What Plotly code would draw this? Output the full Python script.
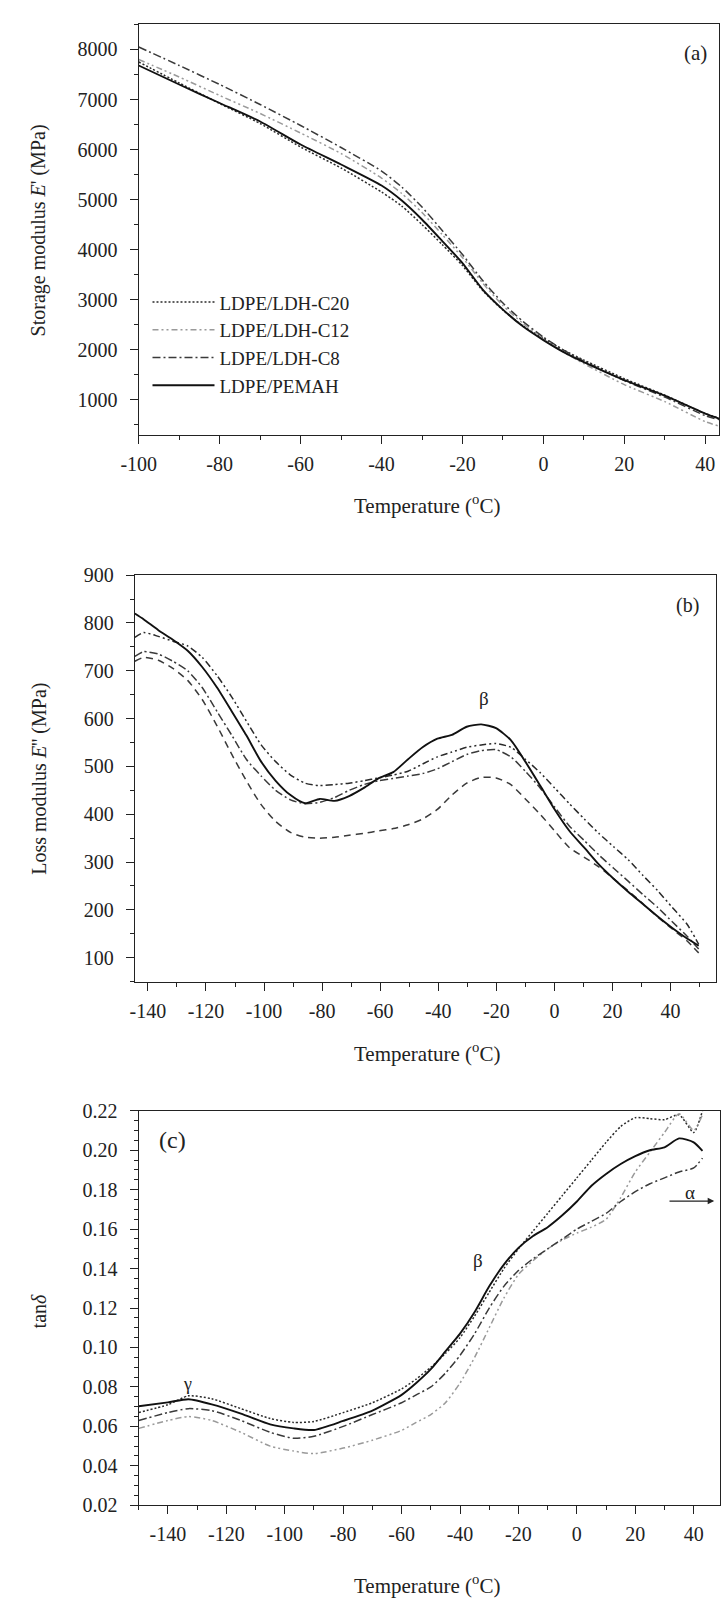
import plotly.graph_objects as go

# ---------------- data ----------------
# Panel (a): storage modulus E' (MPa)
temp_a = [-100, -90, -80, -70, -60, -50, -40, -35, -30, -25, -20, -15, -10, -5, 0, 5, 10, 20, 30, 40, 43.4]
a_c20 = [7750, 7330, 6920, 6520, 6050, 5630, 5150, 4870, 4500, 4100, 3680, 3180, 2790, 2470, 2230, 1990, 1790, 1420, 1090, 720, 630]
a_c12 = [7800, 7450, 7080, 6720, 6330, 5920, 5430, 5120, 4740, 4300, 3840, 3330, 2880, 2520, 2210, 1950, 1720, 1300, 960, 560, 470]
a_c8 = [8050, 7680, 7300, 6900, 6480, 6040, 5570, 5250, 4850, 4380, 3900, 3380, 2930, 2560, 2250, 1990, 1770, 1380, 1050, 680, 600]
a_pemah = [7680, 7300, 6930, 6560, 6100, 5700, 5280, 4980, 4600, 4170, 3730, 3200, 2800, 2460, 2190, 1950, 1750, 1390, 1080, 720, 620]

# Panel (b): loss modulus E'' (MPa)
temp_b = [-144.5, -141.5, -136.4, -131.4, -126.3, -121.3, -116.2, -111.1, -106.1, -101.0, -96.0, -90.9, -85.9,
          -80.8, -75.7, -70.7, -65.6, -60.6, -55.5, -50.4, -45.4, -40.3, -35.3, -30.2, -25.2, -20.1, -15.0, -10.0,
          -4.9, 0.1, 5.2, 10.3, 15.3, 20.4, 25.4, 30.5, 35.6, 40.6, 45.7, 49.7]
b_solid = [820, 808, 785, 765, 742, 708, 665, 615, 565, 510, 470, 440, 423, 432, 428, 438, 455,
           475, 488, 515, 540, 558, 566, 583, 588, 580, 555, 510, 460, 410, 365, 330, 295, 265, 238, 212, 186, 162, 140, 125]
b_dashdotdot = [770, 780, 772, 762, 752, 728, 690, 645, 595, 545, 510, 482, 465, 460, 462, 465, 470,
                476, 482, 490, 505, 520, 530, 540, 545, 548, 540, 515, 487, 455, 422, 390, 360, 332, 305, 272, 240, 205, 170, 128]
b_dashdot = [730, 740, 735, 720, 700, 665, 615, 565, 515, 480, 450, 430, 422, 425, 435, 450, 462,
             470, 475, 480, 485, 495, 510, 525, 533, 535, 520, 490, 455, 415, 375, 345, 315, 287, 260, 232, 205, 175, 145, 118]
b_dashed = [720, 728, 722, 705, 680, 640, 585, 525, 470, 420, 385, 362, 352, 350, 352, 356, 360,
            365, 370, 378, 390, 410, 440, 465, 477, 476, 462, 432, 400, 365, 330, 310, 290, 265, 240, 213, 185, 160, 135, 110]

# Panel (c): tan delta
temp_c = [-150, -140, -133, -125, -115, -105, -97, -90, -80, -70, -60, -55, -50, -45, -40, -35, -30, -25,
          -20, -15, -10, -5, 0, 5, 10, 15, 20, 25, 30, 35, 40, 43]
c_pemah = [0.0702, 0.0722, 0.0738, 0.0712, 0.0665, 0.0610, 0.0590, 0.0582, 0.0628, 0.0680, 0.0760, 0.0820, 0.0890,
           0.0980, 0.1070, 0.1180, 0.1310, 0.1420, 0.1505, 0.1565, 0.1610, 0.1670, 0.1740, 0.1820, 0.1880, 0.1930,
           0.1970, 0.2000, 0.2015, 0.2060, 0.2040, 0.1997]
c_c20 = [0.0670, 0.0710, 0.0755, 0.0740, 0.0690, 0.0640, 0.0620, 0.0625, 0.0670, 0.0720, 0.0790, 0.0840, 0.0900,
         0.0970, 0.1050, 0.1160, 0.1280, 0.1400, 0.1500, 0.1590, 0.1680, 0.1770, 0.1860, 0.1950, 0.2040, 0.2120,
         0.2165, 0.2160, 0.2155, 0.2180, 0.2090, 0.2200]
c_c12 = [0.0590, 0.0630, 0.0650, 0.0630, 0.0570, 0.0500, 0.0475, 0.0462, 0.0490, 0.0530, 0.0580, 0.0620, 0.0660,
         0.0720, 0.0820, 0.0950, 0.1100, 0.1250, 0.1370, 0.1440, 0.1500, 0.1545, 0.1580, 0.1610, 0.1650, 0.1760,
         0.1890, 0.1990, 0.2090, 0.2185, 0.2100, 0.2180]
c_c8 = [0.0630, 0.0670, 0.0690, 0.0680, 0.0630, 0.0570, 0.0540, 0.0550, 0.0600, 0.0660, 0.0720, 0.0760, 0.0800,
        0.0870, 0.0960, 0.1070, 0.1200, 0.1310, 0.1390, 0.1450, 0.1500, 0.1550, 0.1600, 0.1640, 0.1680, 0.1740,
        0.1790, 0.1830, 0.1860, 0.1890, 0.1910, 0.1960]

names = ["LDPE/LDH-C20", "LDPE/LDH-C12", "LDPE/LDH-C8", "LDPE/PEMAH"]

# tick labels (hyphen minus as in the original)
xt_a = [-100, -80, -60, -40, -20, 0, 20, 40]
xt_a_text = ["-100", "-80", "-60", "-40", "-20", "0", "20", "40"]
xt_bc = [-140, -120, -100, -80, -60, -40, -20, 0, 20, 40]
xt_bc_text = ["-140", "-120", "-100", "-80", "-60", "-40", "-20", "0", "20", "40"]

# ---------------- styles ----------------
FONT = "Liberation Serif, Times New Roman, serif"
W, H = 721, 1611
TICK = 20
st_c20 = dict(color="#2a2a2a", width=1.5, dash="2px,2px")
st_c12 = dict(color="#9a9a9a", width=1.5, dash="6px,3px,2px,3px,2px,3px")
st_c8 = dict(color="#3a3a3a", width=1.5, dash="8px,3px,2px,3px")
st_solid = dict(color="#111111", width=1.9)

fig = go.Figure()

# panel a
for nm, ys, st in zip(names, [a_c20, a_c12, a_c8, a_pemah], [st_c20, st_c12, st_c8, st_solid]):
    fig.add_trace(go.Scatter(x=temp_a, y=ys, mode="lines", name=nm,
                             line=dict(shape="spline", smoothing=0.6, **st), xaxis="x", yaxis="y"))

# panel b
for ys, st in zip([b_dashed, b_dashdot, b_dashdotdot, b_solid],
                  [dict(color="#3a3a3a", width=1.5, dash="7px,5px"),
                   dict(color="#3a3a3a", width=1.5, dash="8px,3px,2px,3px"),
                   dict(color="#2a2a2a", width=1.5, dash="7px,3px,2px,3px,2px,3px"),
                   st_solid]):
    fig.add_trace(go.Scatter(x=temp_b, y=ys, mode="lines", showlegend=False,
                             line=dict(shape="spline", smoothing=0.6, **st), xaxis="x2", yaxis="y2"))

# panel c
for nm, ys, st in zip(names, [c_c20, c_c12, c_c8, c_pemah], [st_c20, st_c12, st_c8, st_solid]):
    fig.add_trace(go.Scatter(x=temp_c, y=ys, mode="lines", showlegend=False, name=nm,
                             line=dict(shape="spline", smoothing=0.6, **st), xaxis="x3", yaxis="y3"))


def xdom(a, b):
    return [a / W, b / W]


def ydom(top, bottom):
    return [1 - bottom / H, 1 - top / H]


def ax(**kw):
    d = dict(showline=True, linecolor="#222", linewidth=1.3, mirror=True, ticks="outside",
             ticklen=8, tickwidth=1.2, tickcolor="#222", showgrid=False, zeroline=False,
             tickfont=dict(family=FONT, size=TICK, color="#222"))
    d.update(kw)
    return d


mx = dict(dtick=10, ticks="outside", ticklen=4, tickcolor="#222")

fig.update_layout(
    width=W, height=H, autosize=False,
    margin=dict(l=0, r=0, t=0, b=0),
    paper_bgcolor="white", plot_bgcolor="white",
    font=dict(family=FONT, color="#222"),
    xaxis=ax(domain=xdom(124, 720), range=[-100, 43.4], tickvals=xt_a, ticktext=xt_a_text, anchor="y",
             minor=mx, ticklabelstandoff=3),
    yaxis=ax(domain=ydom(13, 430), range=[290, 8513], dtick=1000, anchor="x", ticklabelstandoff=8,
             minor=dict(dtick=500, ticks="outside", ticklen=4, tickcolor="#222")),
    xaxis2=ax(domain=xdom(120, 717), range=[-144.5, 55.7], tickvals=xt_bc, ticktext=xt_bc_text, anchor="y2",
              minor=mx, ticklabelstandoff=3),
    yaxis2=ax(domain=ydom(572, 984), range=[50, 900], dtick=100, anchor="x2", ticklabelstandoff=8,
              minor=dict(dtick=50, ticks="outside", ticklen=4, tickcolor="#222")),
    xaxis3=ax(domain=xdom(124, 721), range=[-150, 49], tickvals=xt_bc, ticktext=xt_bc_text, anchor="y3",
              minor=mx, ticklabelstandoff=3),
    yaxis3=ax(domain=ydom(1115, 1515), range=[0.02, 0.22], dtick=0.02, tickformat=".2f", anchor="x3",
              ticklabelstandoff=8, minor=dict(dtick=0.005, ticks="outside", ticklen=4, tickcolor="#222")),
    legend=dict(x=133 / W, y=1 - 276 / H, xanchor="left", yanchor="top", bgcolor="rgba(0,0,0,0)",
                font=dict(family=FONT, size=19, color="#222"), itemwidth=62),
)

ann = []
temp_title = "Temperature (<sup>o</sup>C)"
for yc in [500, 1056, 1595]:
    ann.append(dict(x=420 / W, y=1 - yc / H, xref="paper", yref="paper", text=temp_title, showarrow=False,
                    font=dict(family=FONT, size=21), xanchor="center", yanchor="middle"))
for txt, yc in [("Storage modulus <i>E</i>' (MPa)", 222), ("Loss modulus <i>E</i>'' (MPa)", 778),
                ("tan<i>δ</i>", 1318)]:
    ann.append(dict(x=22 / W, y=1 - yc / H, xref="paper", yref="paper", text=txt, showarrow=False,
                    textangle=-90, font=dict(family=FONT, size=20), xanchor="center", yanchor="middle"))
ann += [
    dict(x=37.5, y=7920, xref="x", yref="y", text="(a)", showarrow=False, font=dict(family=FONT, size=21)),
    dict(x=45.7, y=836, xref="x2", yref="y2", text="(b)", showarrow=False, font=dict(family=FONT, size=20)),
    dict(x=-24.4, y=642, xref="x2", yref="y2", text="β", showarrow=False, font=dict(family=FONT, size=19)),
    dict(x=-138.5, y=0.205, xref="x3", yref="y3", text="(c)", showarrow=False, font=dict(family=FONT, size=24)),
    dict(x=-133.4, y=0.0817, xref="x3", yref="y3", text="γ", showarrow=False, font=dict(family=FONT, size=18)),
    dict(x=-33.8, y=0.1442, xref="x3", yref="y3", text="β", showarrow=False, font=dict(family=FONT, size=19)),
    dict(x=38.6, y=0.1786, xref="x3", yref="y3", text="α", showarrow=False, font=dict(family=FONT, size=19)),
    dict(x=47, y=0.1742, ax=31.2, ay=0.1742, xref="x3", yref="y3", axref="x3", ayref="y3", text="",
         showarrow=True, arrowhead=2, arrowsize=1, arrowwidth=1.3, arrowcolor="#222"),
]
fig.update_layout(annotations=ann)

fig.write_html("out.html")
